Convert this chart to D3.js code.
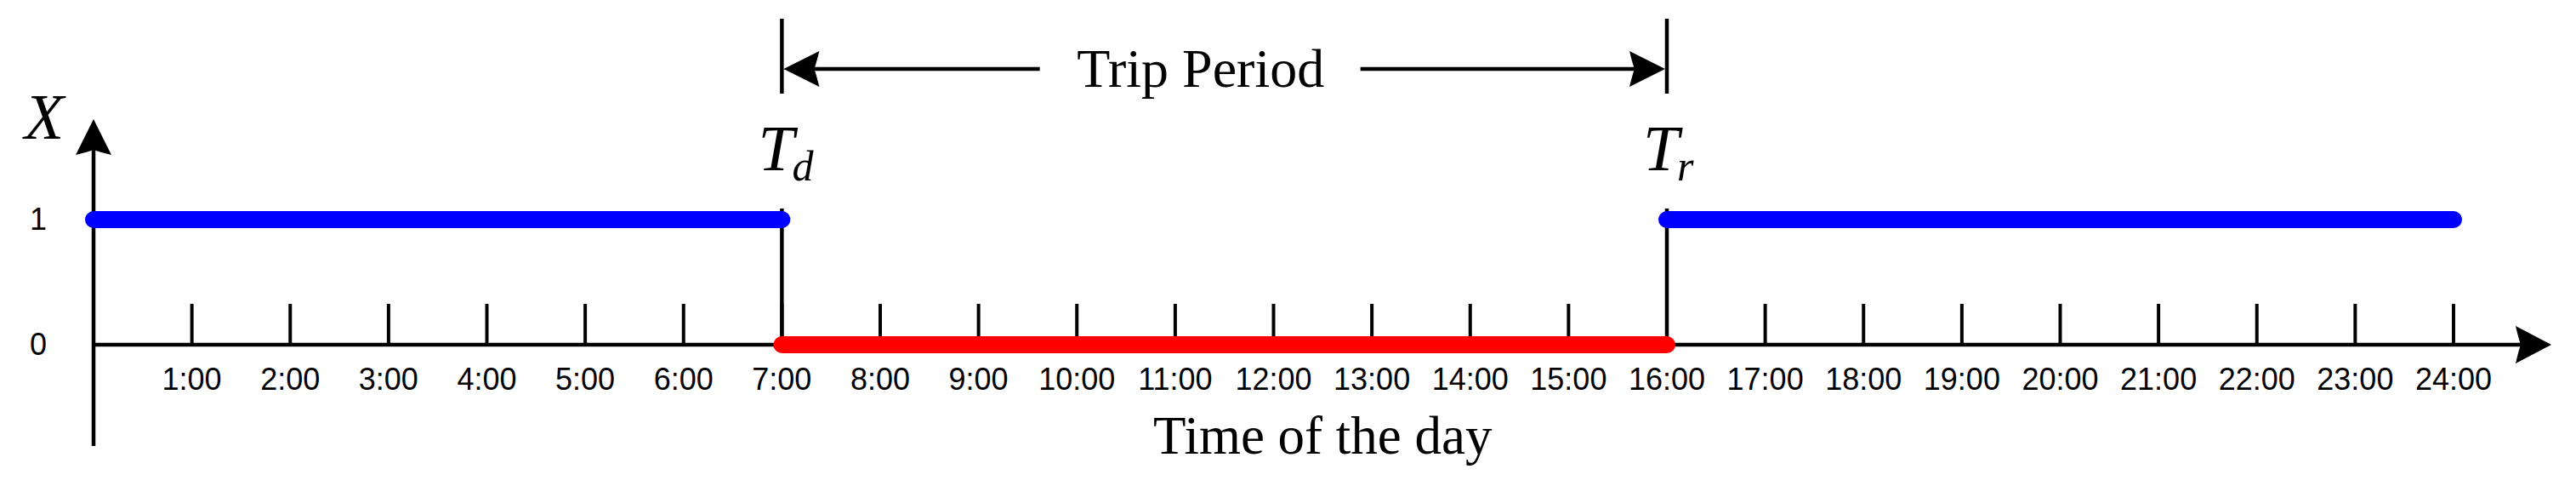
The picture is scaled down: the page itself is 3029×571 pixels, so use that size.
<!DOCTYPE html>
<html>
<head>
<meta charset="utf-8" />
<title>Trip period</title>
<style>
  html, body { margin: 0; padding: 0; background: #fff; }
  svg { display: block; }
  .tick-label { font-family: "Liberation Sans", Arial, sans-serif; font-size: 36px; fill: #000; }
  .serif { font-family: "Liberation Serif", "Times New Roman", serif; fill: #000; }
</style>
</head>
<body>
<svg id="chart"></svg>
<script src="https://cdn.jsdelivr.net/npm/d3@7/dist/d3.min.js"></script>
<script>
// data
var hourTicks = [1, 2, 3, 4, 5, 6, 7, 8, 9, 10, 11, 12, 13, 14, 15, 16, 17, 18, 19, 20, 21, 22, 23, 24];
var hourLabels = ["1:00", "2:00", "3:00", "4:00", "5:00", "6:00", "7:00", "8:00", "9:00", "10:00", "11:00", "12:00",
  "13:00", "14:00", "15:00", "16:00", "17:00", "18:00", "19:00", "20:00", "21:00", "22:00", "23:00", "24:00"];
var stateTicks = [0, 1];
var segStart = [0, 7, 16];
var segEnd = [7, 16, 24];
var segState = [1, 0, 1];
var segColor = ["#0000ff", "#ff0000", "#0000ff"];
var departHour = 7;
var returnHour = 16;

var W = 3029, H = 571;
var svg = d3.select("#chart").attr("width", W).attr("height", H);

var x = d3.scaleLinear().domain([0, 24]).range([110, 2885]);
var y = d3.scaleLinear().domain([0, 1]).range([405, 258]);

// stealth arrowhead, tip at (0,0) pointing to +x
function arrowHead(len, half, notch) {
  return "M0,0 L" + (-len) + "," + (-half) +
    " Q" + (-len + notch * 0.6) + "," + (-half * 0.3) + " " + (-len + notch) + ",0" +
    " Q" + (-len + notch * 0.6) + "," + (half * 0.3) + " " + (-len) + "," + half + " Z";
}

// axes
svg.append("line")
  .attr("x1", x(0)).attr("x2", 2990)
  .attr("y1", y(0)).attr("y2", y(0))
  .attr("stroke", "#000").attr("stroke-width", 4.5);
svg.append("path")
  .attr("d", arrowHead(42, 22, 6))
  .attr("transform", "translate(3000," + y(0) + ")")
  .attr("fill", "#000");

svg.append("line")
  .attr("x1", x(0)).attr("x2", x(0))
  .attr("y1", 524).attr("y2", 150)
  .attr("stroke", "#000").attr("stroke-width", 4.5);
svg.append("path")
  .attr("d", arrowHead(42, 21, 6))
  .attr("transform", "translate(" + x(0) + ",140) rotate(-90)")
  .attr("fill", "#000");

// ticks
svg.selectAll(".tick")
  .data(hourTicks)
  .enter().append("line")
  .attr("class", "tick")
  .attr("x1", function(d) { return x(d); })
  .attr("x2", function(d) { return x(d); })
  .attr("y1", y(0))
  .attr("y2", y(0) - 48)
  .attr("stroke", "#000").attr("stroke-width", 4);

svg.selectAll(".tick-label")
  .data(hourTicks)
  .enter().append("text")
  .attr("class", "tick-label")
  .attr("x", function(d) { return x(d); })
  .attr("y", y(0) + 53)
  .attr("text-anchor", "middle")
  .text(function(d, i) { return hourLabels[i]; });

svg.selectAll(".state-label")
  .data(stateTicks)
  .enter().append("text")
  .attr("class", "tick-label")
  .attr("x", 45)
  .attr("y", function(d) { return y(d) + 12; })
  .attr("text-anchor", "middle")
  .text(function(d) { return d; });

// vertical connectors at departure / return
svg.selectAll(".switch")
  .data([departHour, returnHour])
  .enter().append("line")
  .attr("x1", function(d) { return x(d); })
  .attr("x2", function(d) { return x(d); })
  .attr("y1", y(0))
  .attr("y2", y(1) - 13)
  .attr("stroke", "#000").attr("stroke-width", 4.5);

// state segments
svg.selectAll(".seg")
  .data(segStart)
  .enter().append("line")
  .attr("class", "seg")
  .attr("x1", function(d) { return x(d); })
  .attr("x2", function(d, i) { return x(segEnd[i]); })
  .attr("y1", function(d, i) { return y(segState[i]); })
  .attr("y2", function(d, i) { return y(segState[i]); })
  .attr("stroke", function(d, i) { return segColor[i]; })
  .attr("stroke-width", 20)
  .attr("stroke-linecap", "round");

// trip period bracket
var xd = x(departHour), xr = x(returnHour);
var by = 81;
svg.selectAll(".bracket")
  .data([xd, xr])
  .enter().append("line")
  .attr("x1", function(d) { return d; })
  .attr("x2", function(d) { return d; })
  .attr("y1", 22).attr("y2", 110)
  .attr("stroke", "#000").attr("stroke-width", 4.5);

var textX = (xd + xr) / 2 - 28;
svg.append("line")
  .attr("x1", xd + 30).attr("x2", textX - 145 - 44)
  .attr("y1", by).attr("y2", by)
  .attr("stroke", "#000").attr("stroke-width", 4.5);
svg.append("line")
  .attr("x1", textX + 145 + 43).attr("x2", xr - 30)
  .attr("y1", by).attr("y2", by)
  .attr("stroke", "#000").attr("stroke-width", 4.5);
svg.append("path")
  .attr("d", arrowHead(42, 21, 6))
  .attr("transform", "translate(" + (xd + 2) + "," + by + ") rotate(180)")
  .attr("fill", "#000");
svg.append("path")
  .attr("d", arrowHead(42, 21, 6))
  .attr("transform", "translate(" + (xr - 2) + "," + by + ")")
  .attr("fill", "#000");

svg.append("text")
  .attr("class", "serif")
  .attr("x", textX).attr("y", 102)
  .attr("text-anchor", "middle")
  .style("font-size", "64px")
  .text("Trip Period");

// T_d and T_r
function timeMark(xPos, sub) {
  var g = svg.append("g");
  g.append("text")
    .attr("class", "serif")
    .attr("x", xPos - 28).attr("y", 200)
    .style("font-size", "76px").style("font-style", "italic")
    .text("T");
  g.append("text")
    .attr("class", "serif")
    .attr("x", xPos + 12).attr("y", 212)
    .style("font-size", "50px").style("font-style", "italic")
    .text(sub);
}
timeMark(xd, "d");
timeMark(xr, "r");

// axis titles
svg.append("text")
  .attr("class", "serif")
  .attr("x", 52).attr("y", 163)
  .attr("text-anchor", "middle")
  .style("font-size", "76px").style("font-style", "italic")
  .text("X");

svg.append("text")
  .attr("class", "serif")
  .attr("x", x(12.5)).attr("y", 533)
  .attr("text-anchor", "middle")
  .style("font-size", "63px")
  .text("Time of the day");
</script>
</body>
</html>
